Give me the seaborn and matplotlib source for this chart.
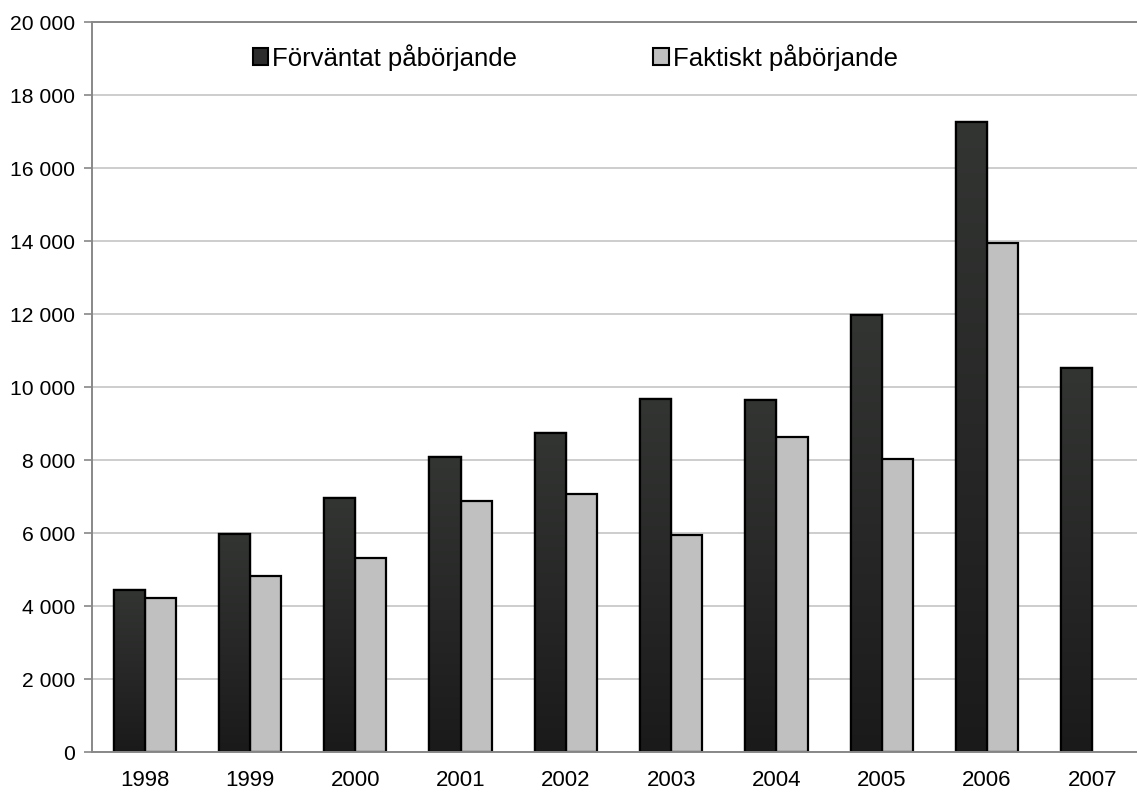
import numpy as np
import pandas as pd
import seaborn as sns
from matplotlib import pyplot as plt
from matplotlib.ticker import FuncFormatter, FixedLocator
from matplotlib.patches import Patch
from matplotlib.colors import LinearSegmentedColormap

years = ["1998", "1999", "2000", "2001", "2002", "2003", "2004", "2005", "2006", "2007"]
forvantat = [4455, 5980, 6967, 8090, 8748, 9671, 9652, 11981, 17270, 10537]
faktiskt = [4219, 4830, 5323, 6885, 7076, 5953, 8647, 8036, 13962, np.nan]
series = ["Förväntat påbörjande", "Faktiskt påbörjande"]

df = pd.DataFrame({
    "year": years * 2,
    "value": forvantat + faktiskt,
    "serie": [series[0]] * len(years) + [series[1]] * len(years),
})

sns.set_style("white", {"text.color": "black", "xtick.color": "black", "ytick.color": "black"})
plt.rcParams["font.family"] = ["Liberation Sans", "DejaVu Sans"]

fig = plt.figure(figsize=(11.37, 7.93), dpi=100)
ax = fig.add_axes([92 / 1137, (793 - 752.3) / 793, 1053 / 1137, 730 / 793])

sns.barplot(data=df, x="year", y="value", hue="serie", hue_order=series,
            palette=["#2b2c2b", "#c0c0c0"], width=0.59, gap=0,
            edgecolor="black", linewidth=1.6, legend=False, ax=ax)

# gradient on the dark bars
grad = np.linspace(0, 1, 256).reshape(-1, 1)
cmap = LinearSegmentedColormap.from_list("g", ["#1a1a1a", "#333533"])
n = len(years)
for p in ax.patches[:n]:
    if np.isnan(p.get_height()):
        continue
    x0, y0 = p.get_x(), p.get_y()
    w, h = p.get_width(), p.get_height()
    im = ax.imshow(grad, cmap=cmap, aspect="auto", origin="lower",
                   extent=[x0, x0 + w, y0, y0 + h], zorder=p.get_zorder() + 0.1)
    im.set_clip_path(p)
    edge = plt.Rectangle((x0, y0), w, h, fill=False, edgecolor="black",
                         linewidth=1.6, zorder=p.get_zorder() + 0.2)
    ax.add_patch(edge)

ax.set_xlim(-0.5, n - 0.5)
ax.set_ylim(0, 20000)
ax.set_yticks(range(0, 20001, 2000))
ax.yaxis.set_major_formatter(FuncFormatter(lambda v, _: f"{int(v):,}".replace(",", " ")))
ax.set_xlabel("")
ax.set_ylabel("")

ax.grid(axis="y", color="#c0c0c0", linewidth=1.1)
ax.set_axisbelow(True)
for s in ["left", "bottom", "top"]:
    ax.spines[s].set_color("#888888")
    ax.spines[s].set_linewidth(1.4)
ax.spines["right"].set_visible(False)

ax.tick_params(axis="x", which="major", length=0, labelsize=16, pad=13, labelcolor="black")
ax.xaxis.set_minor_locator(FixedLocator(np.arange(-0.5, n, 1.0)))
ax.tick_params(axis="x", which="minor", length=6, color="#888888", width=1.2, direction="out")
ax.tick_params(axis="y", length=6, color="#888888", width=1.2, direction="out",
               labelsize=15.2, pad=6, left=True, labelcolor="black")

handles = [Patch(facecolor="#2b2c2b", edgecolor="black", linewidth=1.5),
           Patch(facecolor="#c0c0c0", edgecolor="black", linewidth=1.5)]
ax.legend(handles, series, ncol=2, frameon=False, fontsize=18.5, labelcolor="black",
          loc="center", bbox_to_anchor=(0.459, 0.952),
          handlelength=0.6, handleheight=0.6, handletextpad=0.15, columnspacing=5.3)

fig.savefig("out.png", dpi=100)
